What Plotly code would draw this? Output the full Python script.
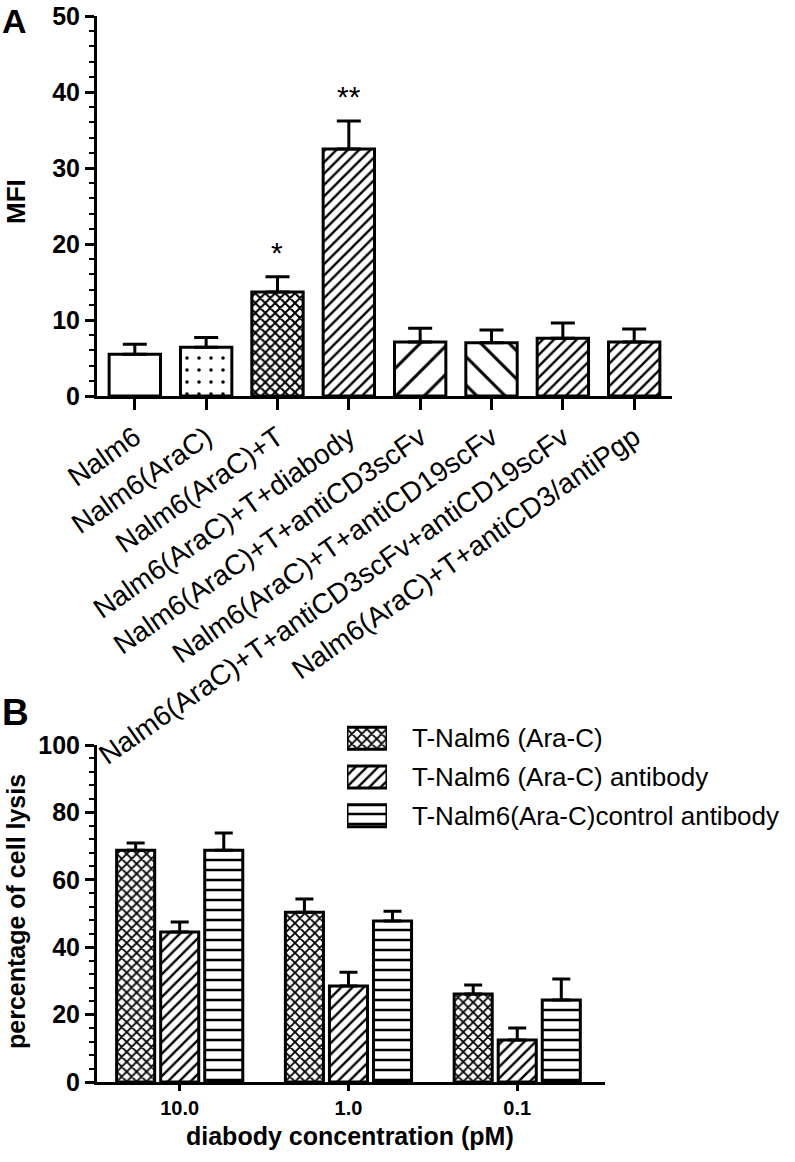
import plotly.graph_objects as go

# ---------------- data ----------------
groups_a = ["Nalm6", "Nalm6(AraC)", "Nalm6(AraC)+T", "Nalm6(AraC)+T+diabody",
            "Nalm6(AraC)+T+antiCD3scFv", "Nalm6(AraC)+T+antiCD19scFv",
            "Nalm6(AraC)+T+antiCD3scFv+antiCD19scFv", "Nalm6(AraC)+T+antiCD3/antiPgp"]
mfi = [5.5, 6.4, 13.7, 32.5, 7.1, 7.0, 7.6, 7.1]
mfi_err = [1.3, 1.3, 2.0, 3.7, 1.8, 1.7, 2.0, 1.7]
signif = ["", "", "*", "**", "", "", "", ""]

conc = ["10.0", "1.0", "0.1"]
series_names = ["T-Nalm6 (Ara-C)", "T-Nalm6 (Ara-C) antibody", "T-Nalm6(Ara-C)control antibody"]
lysis = [[68.8, 50.4, 26.1],
         [44.5, 28.5, 12.5],
         [68.8, 47.8, 24.3]]
lysis_err = [[2.1, 3.9, 2.7],
             [3.0, 4.1, 3.5],
             [5.1, 2.9, 6.3]]

# ---------------- styles ----------------
FONT = "Liberation Sans, Arial, sans-serif"
pat_a_shape = ["", ".", "x", "/", "/", "\\", "/", "/"]
pat_a_size = [8, 12, 7, 8, 20, 20, 8, 8]
pat_a_sol = [0.2, 0.07, 0.5, 0.3, 0.15, 0.15, 0.3, 0.3]
pat_b_shape = ["x", "/", "-"]
pat_b_size = [7, 8, 10]
pat_b_sol = [0.45, 0.3, 0.25]

W, H = 795, 1162
def px_x(p): return p / W
def px_y(p): return 1 - p / H

fig = go.Figure()

# Panel A bars
fig.add_trace(go.Bar(
    x=groups_a, y=mfi, width=0.72, xaxis="x", yaxis="y", showlegend=False,
    marker=dict(color="white", line=dict(color="black", width=3),
                pattern=dict(shape=pat_a_shape, size=pat_a_size, solidity=pat_a_sol,
                             fgcolor="black", bgcolor="white", fgopacity=1)),
    error_y=dict(type="data", array=mfi_err, symmetric=False, arrayminus=[0] * len(mfi),
                 color="black", thickness=3, width=12),
))

# Panel B bars
for i, name in enumerate(series_names):
    fig.add_trace(go.Bar(
        x=conc, y=lysis[i], name=name, xaxis="x2", yaxis="y2", showlegend=False,
        marker=dict(color="white", line=dict(color="black", width=3),
                    pattern=dict(shape=pat_b_shape[i], size=pat_b_size[i], solidity=pat_b_sol[i],
                                 fgcolor="black", bgcolor="white", fgopacity=1)),
        error_y=dict(type="data", array=lysis_err[i], symmetric=False,
                     arrayminus=[0] * len(conc), color="black", thickness=3, width=9),
    ))

# Legend key for panel B
fig.add_trace(go.Bar(
    y=series_names, x=[1] * len(series_names), orientation="h", width=0.57,
    xaxis="x3", yaxis="y3", showlegend=False, hoverinfo="skip",
    marker=dict(color="white", line=dict(color="black", width=3),
                pattern=dict(shape=pat_b_shape, size=pat_b_size, solidity=pat_b_sol,
                             fgcolor="black", bgcolor="white", fgopacity=1)),
))

annotations = []
for g, v, e, s in zip(groups_a, mfi, mfi_err, signif):
    if s:
        annotations.append(dict(x=g, y=v + e + 3.2, xref="x", yref="y", text=s, showarrow=False,
                                font=dict(family=FONT, size=30, color="black"),
                                xanchor="center", yanchor="middle"))

annotations += [
    dict(x=0.0, y=1.0, xref="paper", yref="paper", text="<b>A</b>", showarrow=False,
         xanchor="left", yanchor="top", font=dict(family=FONT, size=34, color="black")),
    dict(x=0.0, y=px_y(690), xref="paper", yref="paper", text="<b>B</b>", showarrow=False,
         xanchor="left", yanchor="top", font=dict(family=FONT, size=37, color="black")),
    dict(x=px_x(16), y=px_y(202), xref="paper", yref="paper", text="<b>MFI</b>", showarrow=False,
         xanchor="center", yanchor="middle",
         textangle=-90, font=dict(family=FONT, size=26, color="black")),
    dict(x=px_x(16), y=px_y(912), xref="paper", yref="paper", text="<b>percentage of cell lysis</b>",
         xanchor="center", yanchor="middle",
         showarrow=False, textangle=-90, font=dict(family=FONT, size=25, color="black")),
    dict(x=px_x(350), y=px_y(1136), xref="paper", yref="paper", text="<b>diabody concentration (pM)</b>",
         xanchor="center", yanchor="middle",
         showarrow=False, font=dict(family=FONT, size=25, color="black")),
]

axis_common = dict(showgrid=False, zeroline=False, showline=True, linecolor="black", linewidth=3,
                   ticks="outside", tickcolor="black", tickwidth=3, automargin=False)

fig.update_layout(
    template="none",
    width=W, height=H, margin=dict(l=0, r=0, t=0, b=0, autoexpand=False),
    paper_bgcolor="white", plot_bgcolor="white",
    barmode="group", bargap=0.217, bargroupgap=0.136,
    font=dict(family=FONT, color="black"),
    xaxis=dict(axis_common, domain=[px_x(97), px_x(672)], anchor="y", type="category",
               range=[-0.53, 7.53], ticklen=11, tickangle=-35,
               tickfont=dict(family=FONT, size=28, color="black")),
    yaxis=dict(axis_common, domain=[px_y(396), px_y(16)], anchor="x", range=[0, 50],
               tickvals=[0, 10, 20, 30, 40, 50], ticklen=9,
               tickfont=dict(family=FONT, size=25, color="black", weight="bold"),
               minor=dict(dtick=2, ticks="outside", ticklen=5, tickwidth=2, tickcolor="black")),
    xaxis2=dict(axis_common, domain=[px_x(97), px_x(605)], anchor="y2", type="category",
                range=[-0.49, 2.52], ticklen=6,
                tickfont=dict(family=FONT, size=20, color="black", weight="bold")),
    yaxis2=dict(axis_common, domain=[px_y(1082), px_y(745)], anchor="x2", range=[0, 100],
                tickvals=[0, 20, 40, 60, 80, 100], ticklen=9,
                tickfont=dict(family=FONT, size=25, color="black", weight="bold"),
                minor=dict(dtick=4, ticks="outside", ticklen=5, tickwidth=2, tickcolor="black")),
    xaxis3=dict(domain=[px_x(347), px_x(387)], anchor="y3", range=[0, 1], visible=False,
                fixedrange=True, automargin=False),
    yaxis3=dict(domain=[px_y(835), px_y(719)], anchor="x3", type="category",
                range=[2.5, -0.5], side="right", showline=False, showgrid=False, zeroline=False,
                ticks="", ticklabelstandoff=24, automargin=False,
                tickfont=dict(family=FONT, size=26, color="black")),
    annotations=annotations,
)

fig.write_html("out.html", config={"displayModeBar": False},
               post_script="document.body.style.margin='0';")
